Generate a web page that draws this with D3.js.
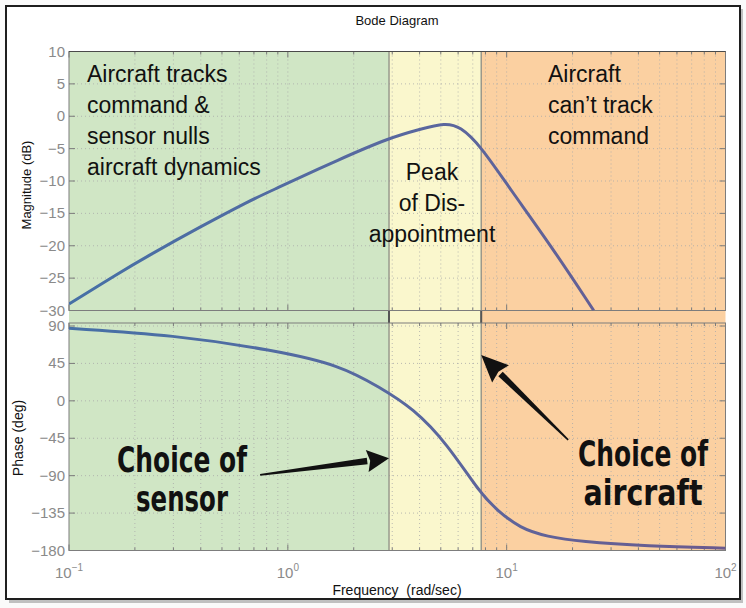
<!DOCTYPE html>
<html><head><meta charset="utf-8">
<script src="https://cdn.jsdelivr.net/npm/d3@7/dist/d3.min.js"></script>
<style>body{margin:0;background:#fff}svg{display:block}</style>
</head><body><svg id="c" width="746" height="608"></svg>
<script>
// ---------- data ----------
const freqDomain = [0.1, 100];
const magDomain = [-30, 10];
const phaseDomain = [-180, 90];
const magTicks = [10, 5, 0, -5, -10, -15, -20, -25, -30];
const phaseTicks = [90, 45, 0, -45, -90, -135, -180];
const xTickValues = [0.1, 1, 10, 100];
const xTickExponents = ["\u22121", "0", "1", "2"];
const regionEdges = [0.1, 2.9, 7.65, 100];
const regionColors = ["#d0e6c5", "#faf7cd", "#fbd0a1"];
const magFreq = [0.1, 0.171, 0.234, 0.397, 0.673, 0.83, 1.73, 2.93, 4.03, 5.24, 6.14, 7.57, 10.4, 15.8, 25.0];
const magDb   = [-29.0, -24.1, -21.4, -17.1, -13.0, -11.6, -6.6, -3.3, -2.0, -1.0, -1.6, -4.5, -11.3, -19.8, -30.0];
const phaseFreq = [0.1, 0.3, 0.859, 1.73, 2.64, 3.74, 5.33, 7.57, 9.03, 11.5, 15.3, 21.7, 43.8, 100];
const phaseDeg  = [87.2, 79.2, 61.1, 43.0, 16.0, -9.0, -51.1, -111.2, -131.3, -153.3, -163.4, -169.4, -174.6, -177.2];

// ---------- layout ----------
const svg = d3.select("#c");
const L = 69, R = 725.5;
const magTop = 51.5, magBot = 310.5;
const phTop = 323, phBot = 550.5;
const x = d3.scaleLog().domain(freqDomain).range([L, R]);
const yM = d3.scaleLinear().domain(magDomain).range([magBot, magTop]);
const yP = d3.scaleLinear().domain(phaseDomain).range([phBot, 326]);
const font = "'Liberation Sans', Arial, Helvetica, sans-serif";

// outer card frame
svg.append("rect").attr("x",0).attr("y",0).attr("width",746).attr("height",608).attr("fill","#fafafa");
svg.append("rect").attr("x",9).attr("y",9).attr("width",734).attr("height",594).attr("fill","#9a9a9a").attr("opacity",0.6);
svg.append("rect").attr("x",6).attr("y",6).attr("width",734).attr("height",593).attr("fill","#fff").attr("stroke","#1e1e1e").attr("stroke-width",2);

// colored regions
for (let i = 0; i < 3; i++) {
  svg.append("rect")
    .attr("x", x(regionEdges[i])).attr("y", magTop)
    .attr("width", x(regionEdges[i+1]) - x(regionEdges[i]))
    .attr("height", phBot - magTop)
    .attr("fill", regionColors[i]);
}

// minor tick positions
const minor = [];
for (let e = -1; e < 2; e++) for (let k = 1; k < 10; k++) minor.push(k * Math.pow(10, e));
minor.push(100);

function panel(y, top, bot, ticks) {
  const g = svg.append("g");
  minor.forEach(f => {
    if (f <= 0.1 || f >= 100) return;
    g.append("line").attr("x1", x(f)).attr("x2", x(f)).attr("y1", top).attr("y2", bot)
      .attr("stroke", "#a9a9a9").attr("stroke-width", 0.8).attr("stroke-dasharray", "1,3");
  });
  ticks.forEach(t => {
    const yy = y(t);
    if (Math.abs(yy - top) < 3 || Math.abs(yy - bot) < 3) return;
    g.append("line").attr("x1", L).attr("x2", R).attr("y1", yy).attr("y2", yy)
      .attr("stroke", "#a9a9a9").attr("stroke-width", 0.8).attr("stroke-dasharray", "1,3");
  });
  minor.forEach(f => {
    const major = Math.abs(Math.log10(f) - Math.round(Math.log10(f))) < 1e-9;
    const len = major ? 6 : 3;
    g.append("line").attr("x1", x(f)).attr("x2", x(f)).attr("y1", bot).attr("y2", bot - len).attr("stroke", "#7b7b7b");
    g.append("line").attr("x1", x(f)).attr("x2", x(f)).attr("y1", top).attr("y2", top + len).attr("stroke", "#7b7b7b");
  });
  ticks.forEach(t => {
    g.append("line").attr("x1", L).attr("x2", L + 6).attr("y1", y(t)).attr("y2", y(t)).attr("stroke", "#7b7b7b");
    g.append("line").attr("x1", R).attr("x2", R - 6).attr("y1", y(t)).attr("y2", y(t)).attr("stroke", "#7b7b7b");
    g.append("text").attr("x", L - 4).attr("y", y(t) + 5).attr("text-anchor", "end")
      .attr("font-family", font).attr("font-size", 15).attr("fill", "#8a8a8a")
      .text(String(t).replace("-", "\u2212"));
  });
  return g;
}
panel(yM, magTop, magBot, magTicks);
panel(yP, phTop, phBot, phaseTicks);

// region boundary lines
[regionEdges[1], regionEdges[2]].forEach(f => {
  svg.append("line").attr("x1", x(f)).attr("x2", x(f)).attr("y1", magTop).attr("y2", phBot)
    .attr("stroke", "#8c8c84").attr("stroke-width", 1.3);
  svg.append("line").attr("x1", x(f)).attr("x2", x(f)).attr("y1", magBot).attr("y2", phTop)
    .attr("stroke", "#555").attr("stroke-width", 2);
});

// panel boxes
svg.append("rect").attr("x", L).attr("y", magTop).attr("width", R - L).attr("height", magBot - magTop)
  .attr("fill", "none").attr("stroke", "#7d7d7d").attr("stroke-width", 1);
svg.append("line").attr("x1", L).attr("x2", R).attr("y1", magTop).attr("y2", magTop).attr("stroke", "#4a4a4a").attr("stroke-width", 1.2);
svg.append("rect").attr("x", L).attr("y", phTop).attr("width", R - L).attr("height", phBot - phTop)
  .attr("fill", "none").attr("stroke", "#7d7d7d").attr("stroke-width", 1);

// gradient for curves
const defs = svg.append("defs");
const grad = defs.append("linearGradient").attr("id", "cg").attr("gradientUnits", "userSpaceOnUse")
  .attr("x1", L).attr("x2", R).attr("y1", 0).attr("y2", 0);
grad.append("stop").attr("offset", "0%").attr("stop-color", "#4670a6");
grad.append("stop").attr("offset", "55%").attr("stop-color", "#5a679e");
grad.append("stop").attr("offset", "100%").attr("stop-color", "#6b5a8e");
defs.append("clipPath").attr("id", "cm").append("rect").attr("x", L).attr("y", magTop).attr("width", R - L).attr("height", magBot - magTop);
defs.append("clipPath").attr("id", "cp").append("rect").attr("x", L).attr("y", phTop).attr("width", R - L).attr("height", phBot - phTop);

const magData = magFreq.map((f, i) => [f, magDb[i]]);
const phData = phaseFreq.map((f, i) => [f, phaseDeg[i]]);
const smooth = d3.curveBasis;
svg.append("path").attr("clip-path", "url(#cm)")
  .attr("d", d3.line().x(d => x(d[0])).y(d => yM(d[1])).curve(smooth)(magData))
  .attr("fill", "none").attr("stroke", "url(#cg)").attr("stroke-width", 3);
svg.append("path").attr("clip-path", "url(#cp)")
  .attr("d", d3.line().x(d => x(d[0])).y(d => yP(d[1])).curve(smooth)(phData))
  .attr("fill", "none").attr("stroke", "url(#cg)").attr("stroke-width", 3);

// x tick labels
xTickValues.forEach((f, i) => {
  const t = svg.append("text").attr("x", x(f)).attr("y", 578).attr("text-anchor", "middle")
    .attr("font-family", font).attr("font-size", 15).attr("fill", "#8a8a8a");
  t.append("tspan").text("10");
  t.append("tspan").attr("font-size", 10).attr("dy", -7).text(xTickExponents[i]);
});

// titles
svg.append("text").attr("x", 397).attr("y", 25).attr("text-anchor", "middle")
  .attr("font-family", font).attr("font-size", 13).attr("fill", "#111").text("Bode Diagram");
svg.append("text").attr("x", 397).attr("y", 595).attr("text-anchor", "middle").attr("xml:space", "preserve")
  .attr("font-family", font).attr("font-size", 14).attr("fill", "#111").text("Frequency  (rad/sec)");
svg.append("text").attr("transform", "translate(31,185) rotate(-90)").attr("text-anchor", "middle")
  .attr("font-family", font).attr("font-size", 13).attr("fill", "#111").text("Magnitude (dB)");
svg.append("text").attr("transform", "translate(23,438) rotate(-90)").attr("text-anchor", "middle")
  .attr("font-family", font).attr("font-size", 14).attr("fill", "#111").text("Phase (deg)");

// region annotations
function lines(arr, x0, y0, anchor) {
  const t = svg.append("text").attr("font-family", font).attr("font-size", 23).attr("fill", "#111").attr("text-anchor", anchor);
  arr.forEach((s, i) => t.append("tspan").attr("x", x0).attr("y", y0 + i * 31).text(s));
}
lines(["Aircraft tracks", "command &", "sensor nulls", "aircraft dynamics"], 87, 82, "start");
lines(["Peak", "of Dis-", "appointment"], 432, 180, "middle");
lines(["Aircraft", "can\u2019t track", "command"], 548, 82, "start");

// hand-drawn style annotations
const hand = "'DejaVu Sans Condensed', 'DejaVu Sans', sans-serif";
function handText(arr, cx, y0, widths) {
  arr.forEach((s, i) => {
    svg.append("text").attr("x", cx - widths[i] / 2).attr("y", y0 + i * 39)
      .attr("font-family", hand).attr("font-weight", "bold").attr("font-size", 36).attr("fill", "#111")
      .attr("textLength", widths[i]).attr("lengthAdjust", "spacingAndGlyphs").text(s);
  });
}
handText(["Choice of", "sensor"], 182, 472, [130, 92]);
handText(["Choice of", "aircraft"], 643, 466, [130, 119]);

// arrows
function arrow(tail, tip, headLen, headHalf) {
  const dx = tip[0] - tail[0], dy = tip[1] - tail[1];
  const len = Math.hypot(dx, dy), ux = dx / len, uy = dy / len, nx = -uy, ny = ux;
  const bx = tip[0] - ux * headLen, by = tip[1] - uy * headLen;
  const w0 = 0.8, w1 = 3.2;
  const shaft = [[tail[0] + nx * w0, tail[1] + ny * w0], [bx + nx * w1, by + ny * w1],
                 [bx - nx * w1, by - ny * w1], [tail[0] - nx * w0, tail[1] - ny * w0]];
  svg.append("path").attr("d", "M" + shaft.map(p => p.join(",")).join("L") + "Z").attr("fill", "#111");
  const head = [tip, [bx + nx * headHalf, by + ny * headHalf], [bx + ux * 3, by + uy * 3], [bx - nx * headHalf, by - ny * headHalf]];
  svg.append("path").attr("d", "M" + head.map(p => p.join(",")).join("L") + "Z").attr("fill", "#111");
}
arrow([x(0.747), yP(-89)], [x(2.9), yP(-69)], 22, 11);
arrow([x(19.1), yP(-47)], [x(7.65), yP(55)], 27, 12);
</script></body></html>
